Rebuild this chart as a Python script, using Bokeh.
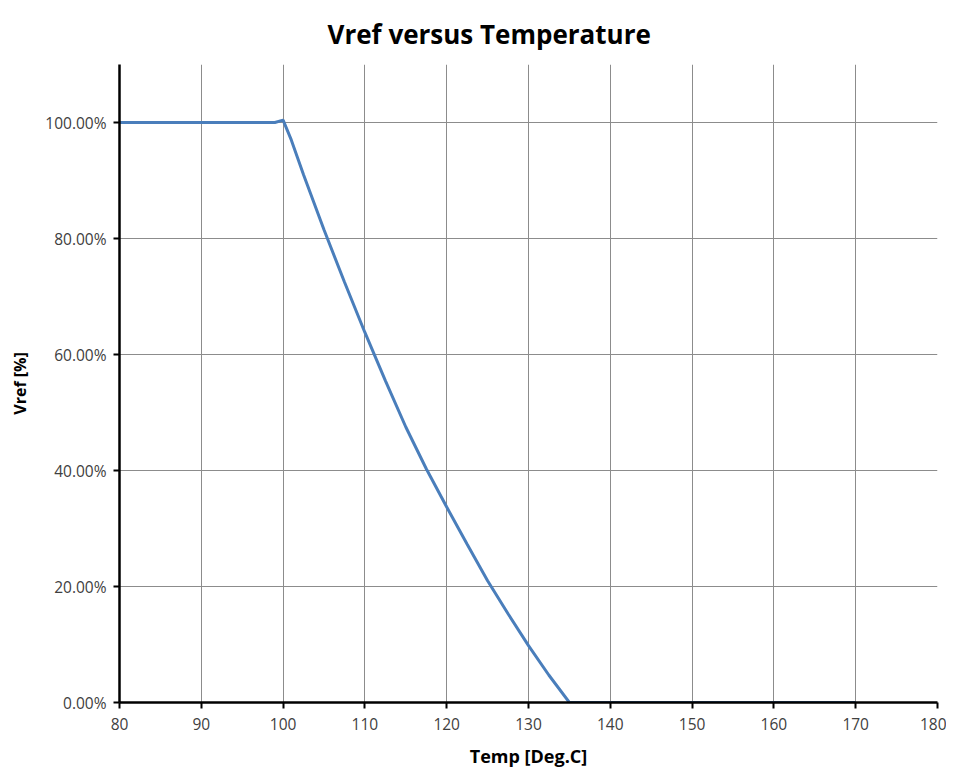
from bokeh.plotting import figure
from bokeh.models import Range1d, NumeralTickFormatter, FixedTicker
from bokeh.embed import file_html
from bokeh.resources import INLINE

# Data
title_text = "Vref versus Temperature"
temp = [80, 90, 99, 100, 101, 102.5, 105, 107.5, 110, 112.5, 115, 117.5,
        120, 122.5, 125, 127.5, 130, 132.5, 135, 140, 150, 160, 170]
vref_pct = [100.0, 100.0, 100.0, 100.4, 97.0, 91.0, 81.5, 72.5, 63.8, 55.5,
            47.5, 40.3, 33.7, 27.3, 21.0, 15.3, 9.8, 4.7, 0.0, 0.0, 0.0, 0.0, 0.0]
x_ticks = [80, 90, 100, 110, 120, 130, 140, 150, 160, 170, 180]
y_ticks = [0.0, 0.2, 0.4, 0.6, 0.8, 1.0]

vref = [v / 100.0 for v in vref_pct]

p = figure(width=946, height=771, output_backend="svg", toolbar_location=None,
           x_range=Range1d(80, 180), y_range=Range1d(0, 1.1),
           min_border_left=119, min_border_right=9, min_border_top=64,
           min_border_bottom=69)
p.outline_line_color = None
p.background_fill_color = "white"
p.border_fill_color = "white"

p.title.text = title_text
p.title.text_font = "Open Sans"
p.title.text_font_style = "bold"
p.title.text_font_size = "26px"
p.title.align = "left"
p.title.offset = 208
p.title.text_color = "black"
p.title.standoff = 25

p.line(temp, vref, line_color="#4a7ebb", line_width=3)

for ax in (p.xaxis[0], p.yaxis[0]):
    ax.axis_line_color = "black"
    ax.axis_line_width = 2.5
    ax.major_tick_line_color = "black"
    ax.major_tick_line_width = 2
    ax.major_tick_out = 6
    ax.major_tick_in = 0
    ax.minor_tick_line_color = None
    ax.major_label_text_font = "Open Sans"
    ax.major_label_text_font_size = "15.5px"
    ax.major_label_text_color = "#404040"
    ax.axis_label_text_font = "Open Sans"
    ax.axis_label_text_font_style = "bold"
    ax.axis_label_text_color = "black"

p.xaxis.axis_label_text_font_size = "18px"
p.yaxis.axis_label_text_font_size = "16px"
p.xaxis.ticker = FixedTicker(ticks=x_ticks)
p.yaxis.ticker = FixedTicker(ticks=y_ticks)
p.yaxis.formatter = NumeralTickFormatter(format="0.00%")
p.xaxis.axis_label = "Temp [Deg.C]"
p.yaxis.axis_label = "Vref [%]"
p.xaxis.major_label_standoff = 9
p.yaxis.major_label_standoff = 7
p.xaxis.axis_label_standoff = 11
p.yaxis.axis_label_standoff = 11

p.xgrid.ticker = FixedTicker(ticks=x_ticks)
p.ygrid.ticker = FixedTicker(ticks=y_ticks)
p.xgrid.grid_line_color = "#8c8c8c"
p.ygrid.grid_line_color = "#8c8c8c"
p.xgrid.grid_line_width = 1
p.ygrid.grid_line_width = 1

open("out.html", "w").write(file_html(p, INLINE))
